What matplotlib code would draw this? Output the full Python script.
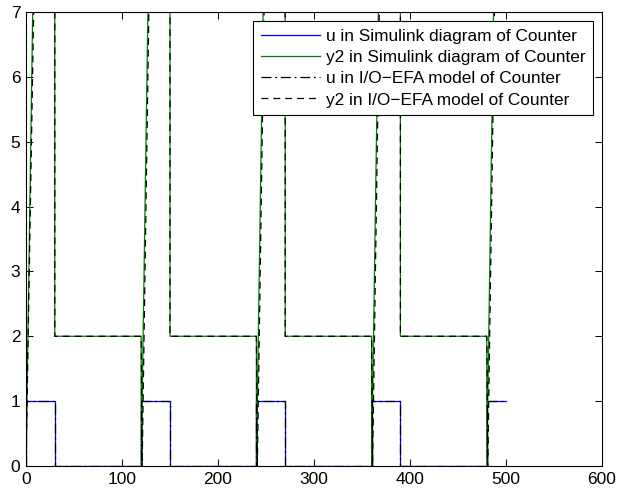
import matplotlib
matplotlib.use("Agg")
import matplotlib.pyplot as plt

plt.rcParams['font.family'] = ['Liberation Sans', 'DejaVu Sans']

# Simulink diagram signals
t_u_sim = [0, 0, 30, 30, 120, 120, 150, 150, 240, 240, 270, 270, 360, 360, 390, 390, 480, 480, 500]
u_sim   = [0, 1, 1, 0, 0, 1, 1, 0, 0, 1, 1, 0, 0, 1, 1, 0, 0, 1, 1]
t_y2_sim = [0, 7, 30, 30, 120, 120, 127, 150, 150, 240, 240, 247, 270, 270, 360, 360, 367, 390, 390, 480, 480, 487, 500]
y2_sim   = [0, 7, 7, 2, 2, 0, 7, 7, 2, 2, 0, 7, 7, 2, 2, 0, 7, 7, 2, 2, 0, 7, 7]

# I/O-EFA model signals
t_u_efa = [0, 0, 30, 30, 120, 120, 150, 150, 240, 240, 270, 270, 360, 360, 390, 390, 480, 480, 500]
u_efa   = [0, 1, 1, 0, 0, 1, 1, 0, 0, 1, 1, 0, 0, 1, 1, 0, 0, 1, 1]
t_y2_efa = [0, 8, 30, 30, 120, 121, 128, 150, 150, 240, 241, 248, 270, 270, 360, 361, 368, 390, 390, 480, 481, 488, 500]
y2_efa   = [0, 7, 7, 2, 2, 0, 7, 7, 2, 2, 0, 7, 7, 2, 2, 0, 7, 7, 2, 2, 0, 7, 7]

labels = ["u in Simulink diagram of Counter",
          "y2 in Simulink diagram of Counter",
          "u in I/O\u2212EFA model of Counter",
          "y2 in I/O\u2212EFA model of Counter"]

xticks = [0, 100, 200, 300, 400, 500, 600]
yticks = [0, 1, 2, 3, 4, 5, 6, 7]

fig = plt.figure(figsize=(6.23, 4.91), dpi=100)
ax = fig.add_axes([0.0417, 0.0509, 0.9246, 0.9247])

ax.plot(t_u_sim, u_sim, color=(0, 0, 1), lw=0.9, label=labels[0])
ax.plot(t_y2_sim, y2_sim, color=(0, 0.5, 0), lw=0.9, label=labels[1])
ax.plot(t_u_efa, u_efa, color='black', lw=0.9, linestyle=(0, (8, 3, 1.5, 3)), label=labels[2])
ax.plot(t_y2_efa, y2_efa, color='black', lw=0.9, linestyle=(0, (5.5, 4)), label=labels[3])

ax.set_xlim(0, 600)
ax.set_ylim(0, 7)
ax.set_xticks(xticks)
ax.set_yticks(yticks)
ax.tick_params(direction='in', length=5, width=0.7, top=True, right=True, labelsize=12.5, pad=4)
for s in ax.spines.values():
    s.set_linewidth(0.8)

leg = ax.legend(loc='upper right', bbox_to_anchor=(1.0, 1.0), fontsize=12.4, frameon=True,
                fancybox=False, edgecolor='black', framealpha=1, handlelength=3.4,
                labelspacing=0.36, borderpad=0.45, handletextpad=0.35, borderaxespad=0.52)
leg.get_frame().set_linewidth(0.8)

fig.savefig("out.png", dpi=100)
